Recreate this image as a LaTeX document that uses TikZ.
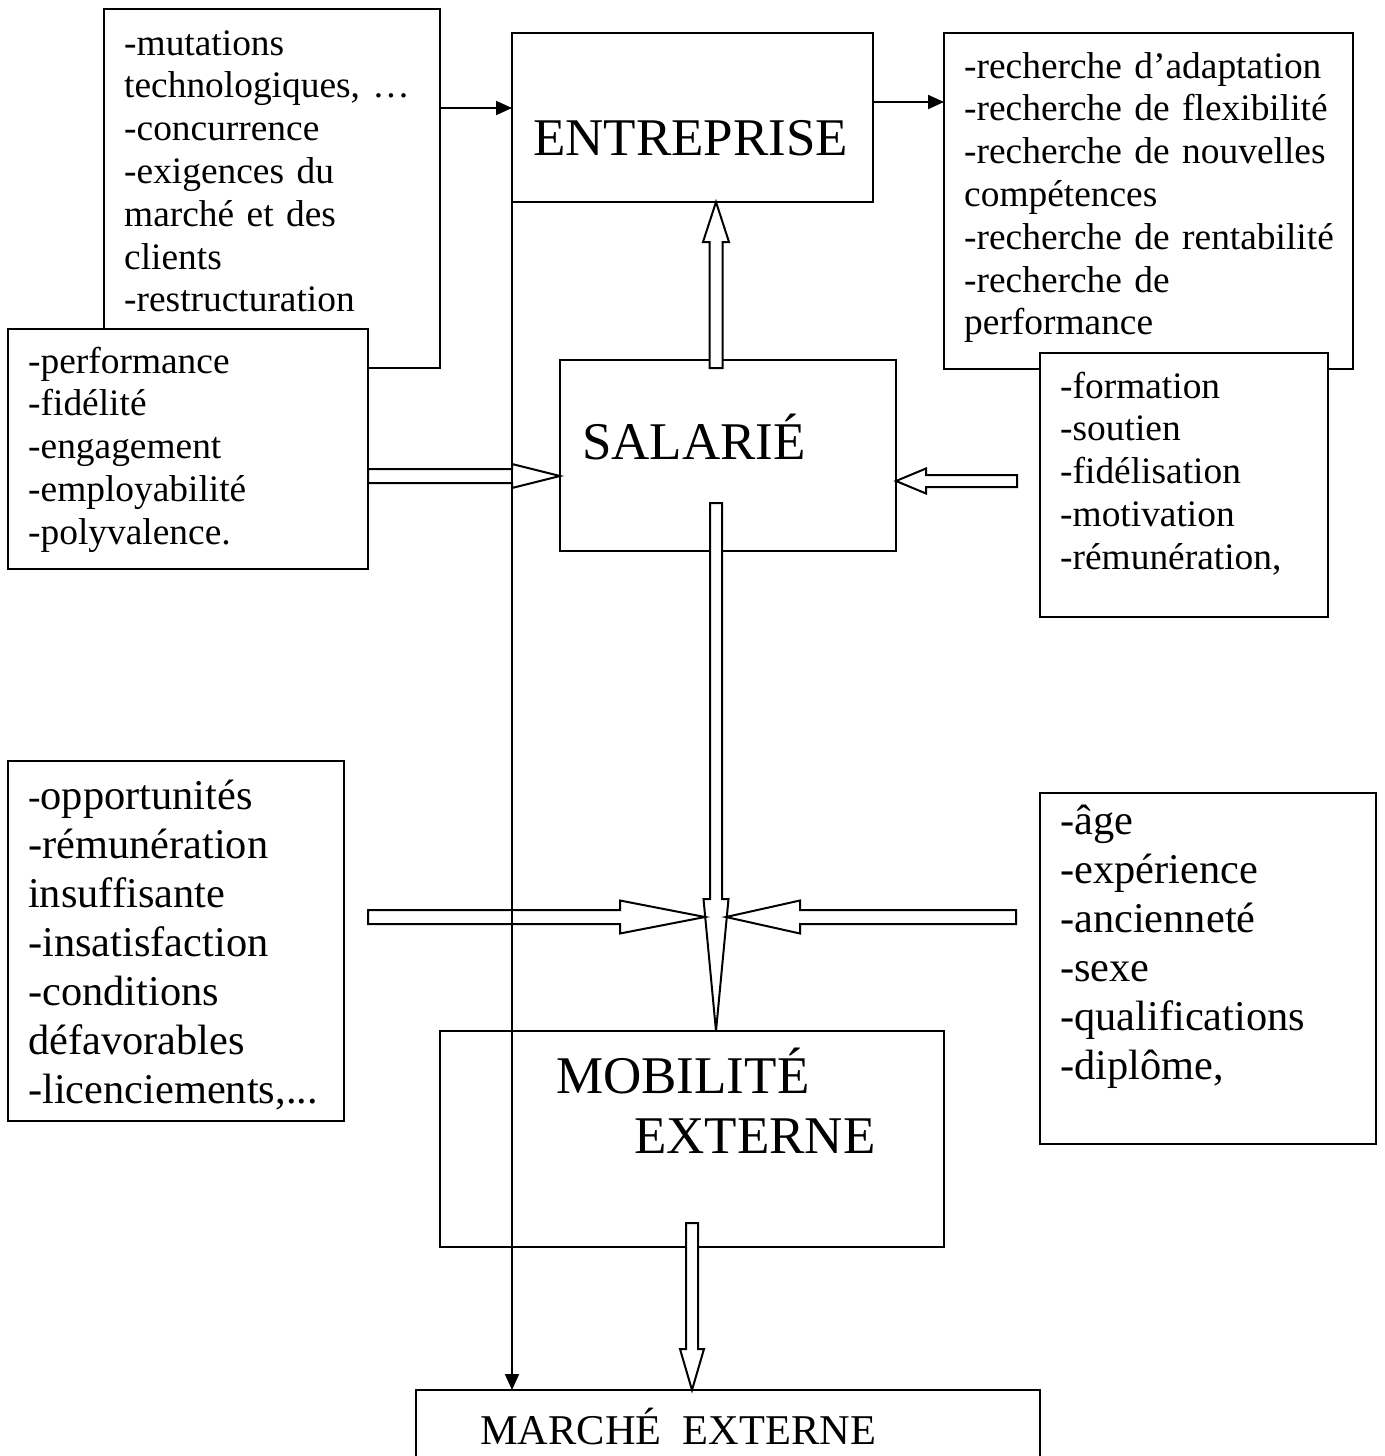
\documentclass[tikz,border=0pt]{standalone}
\usepackage{fontspec}
\setmainfont{Liberation Serif}
\usetikzlibrary{arrows.meta,calc}
\tikzset{
  x=1pt, y=-1pt,
  box/.style={draw, fill=white, line width=2pt, inner sep=0pt, outer sep=0pt, anchor=north west},
  txt/.style={inner sep=0pt, anchor=base west, align=left, text width=440pt, font=\fontsize{37.4}{42.8}\selectfont},
  txtb/.style={inner sep=0pt, anchor=base west, align=left, text width=440pt, font=\fontsize{42.4}{49}\selectfont},
  big/.style={inner sep=0pt, anchor=base west, font=\fontsize{53}{60}\selectfont},
  midbig/.style={inner sep=0pt, anchor=base west, font=\fontsize{42.4}{49}\selectfont},
  thinarr/.style={line width=2pt, -{Triangle[length=16pt,width=14pt]}},
  barrow/.style={draw, fill=white, line width=2pt, line join=miter}
}
\newcommand\blockarr[5]{%
  \coordinate (ba-h) at ($(#2)!#5pt!(#1)$);
  \draw[barrow] ($(#1)!#3pt!90:(#2)$) -- ($(ba-h)!#3pt!-90:(#1)$) -- ($(ba-h)!#4pt!-90:(#1)$) -- (#2)
    -- ($(ba-h)!#4pt!90:(#1)$) -- ($(ba-h)!#3pt!90:(#1)$) -- ($(#1)!#3pt!-90:(#2)$) -- cycle;}
\begin{document}
\begin{tikzpicture}
\useasboundingbox (0,0) rectangle (1384,1456);
\clip (0,0) rectangle (1384,1456);
\fill[white] (0,0) rectangle (1384,1456);

% upper left boxes
\node[box, minimum width=336, minimum height=359] (mut) at (104,9) {};
\node[txt] (mutT) at (124,55) {-mutations\\technologiques, …\\-concurrence\\-exigences du\\marché et des\\clients\\-restructuration};
\node[box, minimum width=360, minimum height=240] (perf) at (8,329) {};
\node[txt] (perfT) at (28,373) {-performance\\-fidélité\\-engagement\\-employabilité\\-polyvalence.};

% upper right boxes
\node[box, minimum width=409, minimum height=336] (rech) at (944,33) {};
\node[txt] (rechT) at (964,78) {-recherche d’adaptation\\-recherche de flexibilité\\-recherche de nouvelles\\compétences\\-recherche de rentabilité\\-recherche de\\performance};
\node[box, minimum width=288, minimum height=264] (form) at (1040,353) {};
\node[txt] (formT) at (1060,398) {-formation\\-soutien\\-fidélisation\\-motivation\\-rémunération,};

% central boxes
\node[box, minimum width=361, minimum height=169] (ent) at (512,33) {};
\node[big] (entT) at (533,155) {ENTREPRISE};
\node[box, minimum width=336, minimum height=191] (sal) at (560,360) {};
\node[big] (salT) at (582,459) {SALARIÉ};
\node[box, minimum width=504, minimum height=216] (mob) at (440,1031) {};
\node[big] (mobT1) at (556,1093) {MOBILITÉ};
\node[big] (mobT2) at (634,1153) {EXTERNE};
\node[box, minimum width=624, minimum height=120] (mar) at (416,1390) {};
\node[midbig] (marT) at (480,1444) {MARCHÉ\ \ EXTERNE};

% lower side boxes
\node[box, minimum width=336, minimum height=360] (opp) at (8,761) {};
\node[txtb] (oppT) at (28,809) {{\fontsize{37.4}{42.8}\selectfont -}opportunités\\-rémunération\\insuffisante\\-insatisfaction\\-conditions\\défavorables\\-licenciements,...};
\node[box, minimum width=336, minimum height=351] (age) at (1040,793) {};
\node[txtb] (ageT) at (1060,834) {-âge\\-expérience\\-ancienneté\\-sexe\\-qualifications\\-diplôme,};

% block arrows
\coordinate (a1s) at (716,368);  \coordinate (a1t) at (a1s |- ent.south);
\blockarr{a1s}{a1t}{6.5}{13}{40}
\coordinate (a2s) at (perf.east |- 0,476); \coordinate (a2t) at (sal.west |- 0,476);
\blockarr{a2s}{a2t}{7}{12}{48}
\coordinate (a3s) at (1017,481); \coordinate (a3t) at (sal.east |- 0,481);
\blockarr{a3s}{a3t}{6}{12.5}{30}
\coordinate (a4s) at (716,503); \coordinate (a4t) at (a4s |- mob.north);
\blockarr{a4s}{a4t}{6}{12.5}{132}
\coordinate (a5s) at (368,917); \coordinate (a5t) at (705,917);
\blockarr{a5s}{a5t}{7}{16.5}{85}
\coordinate (a6s) at (1016,917); \coordinate (a6t) at (726,917);
\blockarr{a6s}{a6t}{7}{16.5}{74}
\coordinate (a7s) at (692,1223); \coordinate (a7t) at (a7s |- mar.north);
\blockarr{a7s}{a7t}{6}{12}{41}

% thin arrows
\draw[thinarr] (mut.east |- 0,108) -- (ent.west |- 0,108);
\draw[thinarr] (ent.east |- 0,102) -- (rech.west |- 0,102);
\draw[thinarr] (ent.south west) -- (ent.south west |- mar.north);
\end{tikzpicture}
\end{document}
